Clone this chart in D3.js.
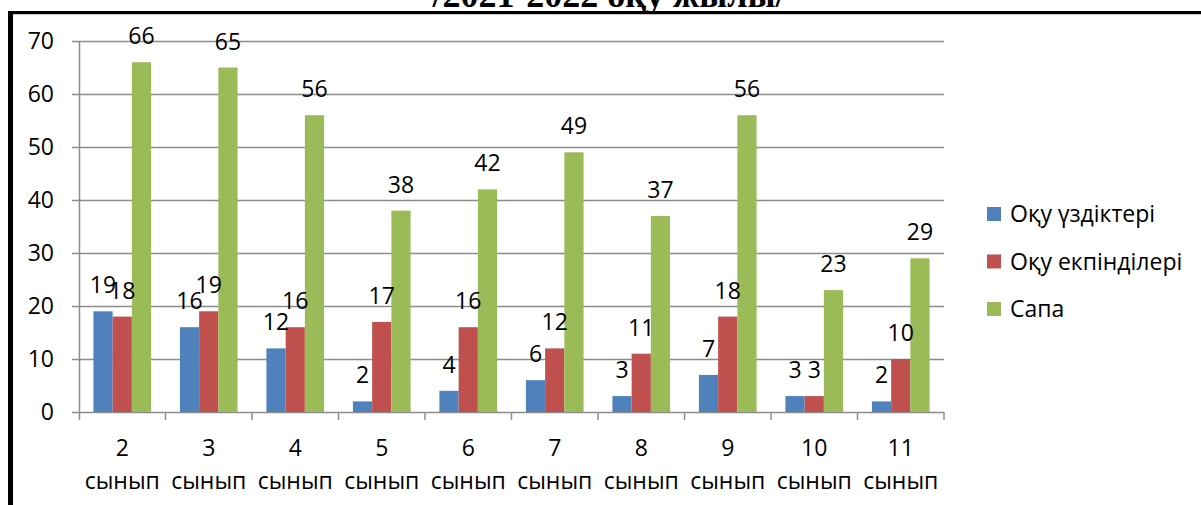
<!DOCTYPE html>
<html>
<head>
    <meta charset="utf-8">
    <title>Оқу үздіктері, екпінділері және сапа</title>
    <script src="https://d3js.org/d3.v7.min.js"></script>
    <style>
        body { margin: 0; background: #fff; }
        svg text { font-family: "Open Sans", "DejaVu Sans", sans-serif; fill: #000; }
    </style>
</head>
<body>
    <div id="chart"></div>

    <script>
        const title = "/2021-2022 оқу жылы/";
        const classes = ["2", "3", "4", "5", "6", "7", "8", "9", "10", "11"];
        const classWord = "сынып";
        const seriesNames = ["Оқу үздіктері", "Оқу екпінділері", "Сапа"];
        const seriesColors = ["#4f81bd", "#c0504d", "#9bbb59"];
        const excellent = [19, 16, 12, 2, 4, 6, 3, 7, 3, 2];
        const good = [18, 19, 16, 17, 16, 12, 11, 18, 3, 10];
        const quality = [66, 65, 56, 38, 42, 49, 37, 56, 23, 29];
        const yTicks = [0, 10, 20, 30, 40, 50, 60, 70];

        const width = 1201;
        const height = 505;
        const margin = {top: 41, right: 257, bottom: 93, left: 79};

        const svg = d3.select("#chart").append("svg")
            .attr("width", width)
            .attr("height", height);

        // frame and the clipped heading above it
        svg.append("text")
            .attr("x", 609)
            .attr("y", 7)
            .attr("text-anchor", "middle")
            .style("font-family", "'Liberation Serif', 'Times New Roman', serif")
            .style("font-weight", "bold")
            .style("font-size", "36px")
            .text(title);

        svg.append("line")
            .attr("x1", 8).attr("x2", width)
            .attr("y1", 12.5).attr("y2", 12.5)
            .attr("stroke", "#000").attr("stroke-width", 3);
        svg.append("line")
            .attr("x1", 8).attr("x2", width)
            .attr("y1", 14.5).attr("y2", 14.5)
            .attr("stroke", "#c8c8c8").attr("stroke-width", 1);
        svg.append("line")
            .attr("x1", 10.5).attr("x2", 10.5)
            .attr("y1", 11).attr("y2", height)
            .attr("stroke", "#000").attr("stroke-width", 5);

        const rows = classes.map((c, i) => ({
            name: c,
            values: [excellent[i], good[i], quality[i]]
        }));

        const x0 = d3.scaleBand()
            .domain(classes)
            .range([margin.left, width - margin.right]);

        // 3 bars plus a gap of 1.5 bar widths, like a 150% gap width
        const x1 = d3.scaleBand()
            .domain(d3.range(seriesNames.length))
            .range([0, x0.bandwidth()])
            .paddingOuter(0.75);

        const y = d3.scaleLinear()
            .domain([0, 70])
            .range([height - margin.bottom, margin.top]);

        const gridColor = "#8c8c8c";
        const fontSize = "23px";

        // horizontal gridlines with small ticks to the left
        svg.append("g")
            .selectAll("line")
            .data(yTicks)
            .join("line")
            .attr("x1", margin.left - 7)
            .attr("x2", width - margin.right)
            .attr("y1", d => Math.round(y(d)) + 0.5)
            .attr("y2", d => Math.round(y(d)) + 0.5)
            .attr("stroke", gridColor)
            .attr("stroke-width", 1.5);

        svg.append("g")
            .selectAll("text")
            .data(yTicks)
            .join("text")
            .attr("x", 54)
            .attr("y", d => y(d))
            .attr("dy", "0.36em")
            .attr("text-anchor", "end")
            .style("font-size", fontSize)
            .text(d => d);

        // bars
        const groups = svg.append("g")
            .selectAll("g")
            .data(rows)
            .join("g")
            .attr("transform", d => `translate(${x0(d.name)},0)`);

        groups.selectAll("rect")
            .data(d => d.values)
            .join("rect")
            .attr("x", (d, i) => x1(i))
            .attr("width", x1.bandwidth())
            .attr("y", d => y(d))
            .attr("height", d => y(0) - y(d))
            .attr("fill", (d, i) => seriesColors[i]);

        groups.selectAll("text")
            .data(d => d.values)
            .join("text")
            .attr("x", (d, i) => x1(i) + x1.bandwidth() / 2)
            .attr("y", d => y(d) - 18)
            .attr("text-anchor", "middle")
            .style("font-size", fontSize)
            .text(d => d);

        // axis lines drawn over the bars
        svg.append("line")
            .attr("x1", margin.left + 0.5).attr("x2", margin.left + 0.5)
            .attr("y1", y(70)).attr("y2", y(0) + 8)
            .attr("stroke", gridColor).attr("stroke-width", 1.5);

        svg.append("g")
            .selectAll("line")
            .data(classes.slice(1).concat(["end"]))
            .join("line")
            .attr("x1", d => d === "end" ? width - margin.right : x0(d))
            .attr("x2", d => d === "end" ? width - margin.right : x0(d))
            .attr("y1", y(0))
            .attr("y2", y(0) + 8)
            .attr("stroke", gridColor)
            .attr("stroke-width", 1.5);

        const labels = svg.append("g")
            .selectAll("text")
            .data(classes)
            .join("text")
            .attr("text-anchor", "middle")
            .style("font-size", fontSize);
        labels.append("tspan")
            .attr("x", d => x0(d) + x0.bandwidth() / 2)
            .attr("y", 456)
            .text(d => d);
        labels.append("tspan")
            .attr("x", d => x0(d) + x0.bandwidth() / 2)
            .attr("y", 489)
            .text(classWord);

        // legend
        const legend = svg.append("g")
            .selectAll("g")
            .data(seriesNames)
            .join("g")
            .attr("transform", (d, i) => `translate(987,${214 + i * 47.5})`);

        legend.append("rect")
            .attr("x", 0)
            .attr("y", -7)
            .attr("width", 14)
            .attr("height", 14)
            .attr("fill", (d, i) => seriesColors[i]);

        legend.append("text")
            .attr("x", 23)
            .attr("y", 0)
            .attr("dy", "0.36em")
            .style("font-size", "23px")
            .text(d => d);
    </script>
</body>
</html>
